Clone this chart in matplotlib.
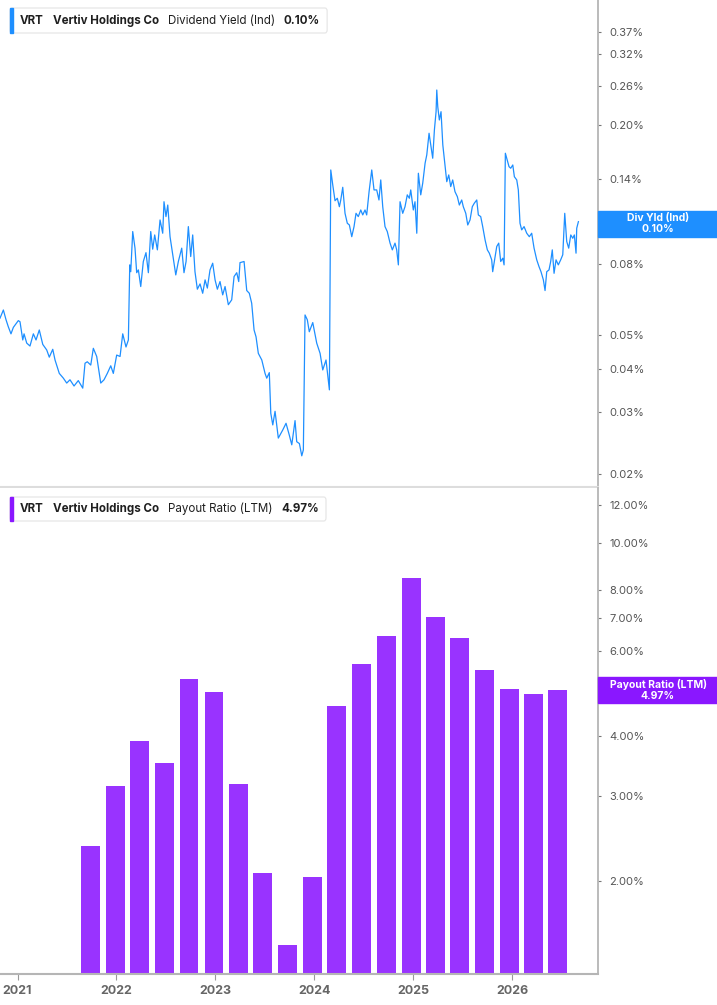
import matplotlib.pyplot as plt
from matplotlib.patches import Rectangle, FancyBboxPatch
from matplotlib.ticker import NullLocator

plt.rcParams['font.family'] = ['Inter', 'DejaVu Sans']

# Dividend yield (ind), in % (x in decimal years)
yld_t = [
    2020.823, 2020.857, 2020.884, 2020.907, 2020.934, 2020.958, 2021.008, 2021.025, 2021.053, 2021.066,
    2021.093, 2021.126, 2021.160, 2021.187, 2021.220, 2021.255, 2021.295, 2021.321, 2021.356, 2021.379,
    2021.422, 2021.463, 2021.497, 2021.530, 2021.571, 2021.614, 2021.659, 2021.682, 2021.705, 2021.740,
    2021.766, 2021.800, 2021.841, 2021.874, 2021.907, 2021.942, 2021.968, 2022.002, 2022.036, 2022.063,
    2022.096, 2022.120, 2022.134, 2022.144, 2022.164, 2022.187, 2022.204, 2022.221, 2022.245, 2022.271,
    2022.298, 2022.322, 2022.346, 2022.366, 2022.386, 2022.413, 2022.440, 2022.467, 2022.480, 2022.500,
    2022.518, 2022.541, 2022.568, 2022.599, 2022.625, 2022.659, 2022.682, 2022.703, 2022.726, 2022.750,
    2022.770, 2022.793, 2022.817, 2022.844, 2022.871, 2022.895, 2022.918, 2022.945, 2022.972, 2022.996,
    2023.019, 2023.046, 2023.073, 2023.097, 2023.130, 2023.164, 2023.188, 2023.215, 2023.235, 2023.248,
    2023.289, 2023.316, 2023.342, 2023.366, 2023.390, 2023.410, 2023.433, 2023.468, 2023.501, 2023.518,
    2023.544, 2023.559, 2023.579, 2023.602, 2023.635, 2023.680, 2023.713, 2023.746, 2023.771, 2023.804,
    2023.821, 2023.848, 2023.872, 2023.888, 2023.905, 2023.928, 2023.948, 2023.983, 2024.023, 2024.057,
    2024.084, 2024.117, 2024.151, 2024.165, 2024.185, 2024.208, 2024.231, 2024.252, 2024.266, 2024.286,
    2024.309, 2024.332, 2024.353, 2024.377, 2024.400, 2024.420, 2024.443, 2024.468, 2024.488, 2024.511,
    2024.528, 2024.552, 2024.579, 2024.602, 2024.629, 2024.652, 2024.670, 2024.690, 2024.713, 2024.736,
    2024.764, 2024.787, 2024.814, 2024.831, 2024.848, 2024.865, 2024.892, 2024.915, 2024.938, 2024.959,
    2024.973, 2024.999, 2025.016, 2025.034, 2025.050, 2025.074, 2025.094, 2025.118, 2025.135, 2025.158,
    2025.175, 2025.195, 2025.212, 2025.229, 2025.236, 2025.246, 2025.262, 2025.279, 2025.297, 2025.313,
    2025.337, 2025.357, 2025.377, 2025.397, 2025.420, 2025.444, 2025.464, 2025.488, 2025.504, 2025.529,
    2025.549, 2025.572, 2025.595, 2025.615, 2025.640, 2025.656, 2025.680, 2025.700, 2025.724, 2025.747,
    2025.767, 2025.791, 2025.801, 2025.825, 2025.842, 2025.862, 2025.882, 2025.903, 2025.916, 2025.929,
    2025.943, 2025.966, 2025.983, 2026.004, 2026.020, 2026.044, 2026.060, 2026.077, 2026.094, 2026.118,
    2026.145, 2026.171, 2026.195, 2026.219, 2026.246, 2026.269, 2026.289, 2026.313, 2026.330, 2026.347,
    2026.370, 2026.387, 2026.403, 2026.421, 2026.441, 2026.464, 2026.488, 2026.509, 2026.529, 2026.549,
    2026.569, 2026.590, 2026.610, 2026.626, 2026.643, 2026.650, 2026.667,
]
yld_pct = [
    0.0559, 0.0590, 0.0553, 0.0528, 0.0504, 0.0526, 0.0550, 0.0546, 0.0484, 0.0504,
    0.0474, 0.0465, 0.0504, 0.0484, 0.0517, 0.0470, 0.0453, 0.0432, 0.0455, 0.0424,
    0.0388, 0.0376, 0.0364, 0.0372, 0.0357, 0.0370, 0.0352, 0.0415, 0.0419, 0.0410,
    0.0458, 0.0434, 0.0364, 0.0372, 0.0388, 0.0408, 0.0388, 0.0438, 0.0434, 0.0504,
    0.0462, 0.0484, 0.0795, 0.0760, 0.0991, 0.0888, 0.0755, 0.0769, 0.0689, 0.0813,
    0.0862, 0.0755, 0.0991, 0.0882, 0.0969, 0.0878, 0.1070, 0.0980, 0.1207, 0.1094,
    0.1181, 0.0958, 0.0850, 0.0744, 0.0813, 0.0888, 0.0755, 0.0813, 0.1024, 0.0840,
    0.0969, 0.0760, 0.0677, 0.0701, 0.0659, 0.0720, 0.0682, 0.0769, 0.0804, 0.0720,
    0.0677, 0.0712, 0.0652, 0.0689, 0.0611, 0.0631, 0.0736, 0.0755, 0.0712, 0.0807,
    0.0813, 0.0671, 0.0659, 0.0617, 0.0517, 0.0494, 0.0443, 0.0424, 0.0388, 0.0376,
    0.0390, 0.0298, 0.0276, 0.0302, 0.0253, 0.0267, 0.0279, 0.0258, 0.0242, 0.0284,
    0.0247, 0.0244, 0.0225, 0.0234, 0.0571, 0.0553, 0.0511, 0.0543, 0.0474, 0.0443,
    0.0397, 0.0424, 0.0348, 0.1489, 0.1349, 0.1215, 0.1235, 0.1168, 0.1221, 0.1328,
    0.1118, 0.1047, 0.1035, 0.0958, 0.1024, 0.1118, 0.1094, 0.1143, 0.1106, 0.1143,
    0.1106, 0.1290, 0.1489, 0.1305, 0.1305, 0.1221, 0.1394, 0.1168, 0.1024, 0.0991,
    0.0918, 0.0878, 0.0918, 0.0878, 0.0795, 0.1207, 0.1118, 0.1168, 0.1263, 0.1235,
    0.1305, 0.1143, 0.1207, 0.0980, 0.1457, 0.1263, 0.1364, 0.1557, 0.1645, 0.1898,
    0.1757, 0.1609, 0.1940, 0.2189, 0.2526, 0.2261, 0.2072, 0.2189, 0.1757, 0.1591,
    0.1378, 0.1441, 0.1334, 0.1394, 0.1290, 0.1248, 0.1181, 0.1221, 0.1168, 0.1118,
    0.1035, 0.1070, 0.1168, 0.1195, 0.1221, 0.1106, 0.1094, 0.1024, 0.0938, 0.0878,
    0.0859, 0.0822, 0.0760, 0.0840, 0.0898, 0.0918, 0.0813, 0.0831, 0.0795, 0.1663,
    0.1609, 0.1522, 0.1506, 0.1539, 0.1424, 0.1394, 0.1305, 0.1047, 0.1002, 0.1024,
    0.0980, 0.0958, 0.0980, 0.0888, 0.0822, 0.0786, 0.0760, 0.0720, 0.0671, 0.0760,
    0.0769, 0.0813, 0.0878, 0.0752, 0.0822, 0.0795, 0.0822, 0.0850, 0.1118, 0.0928,
    0.0888, 0.0969, 0.0948, 0.0969, 0.0859, 0.1013, 0.1058,
]

# Payout ratio (LTM), in %, one bar per quarter
pay_t = [2021.740, 2021.992, 2022.236, 2022.483, 2022.733, 2022.986, 2023.231, 2023.478,
         2023.730, 2023.983, 2024.225, 2024.478, 2024.730, 2024.983, 2025.223, 2025.465,
         2025.718, 2025.970, 2026.213, 2026.456]
pay_pct = [2.37, 3.15, 3.91, 3.52, 5.25, 4.93, 3.18, 2.08, 1.48, 2.04,
           4.62, 5.62, 6.44, 8.49, 7.04, 6.36, 5.46, 4.99, 4.87, 4.97]

year_ticks = [2021, 2022, 2023, 2024, 2025, 2026]
yld_ticks = [0.02, 0.03, 0.04, 0.05, 0.08, 0.11, 0.14, 0.20, 0.26, 0.32, 0.37]
pay_ticks = [2, 3, 4, 5, 6, 7, 8, 10, 12]
# these tick labels sit under the current-value boxes
yld_hidden = [0.11]
pay_hidden = [5]

BLUE = '#1e8fff'
PURPLE = '#9933ff'
PURPLE_TAG = '#8a17ff'
W, H = 717, 1005

fig = plt.figure(figsize=(W / 100, H / 100), dpi=100)
fig.patch.set_facecolor('white')


def px_axes(x0, y0, x1, y1):
    return fig.add_axes([x0 / W, 1 - y1 / H, (x1 - x0) / W, (y1 - y0) / H])


ax1 = px_axes(0, 0, 598, 487)
ax2 = px_axes(0, 488, 598, 974)

for ax in (ax1, ax2):
    ax.set_yscale('log')
    ax.set_xlim(2020.823, 2026.865)
    ax.spines['left'].set_visible(False)
    ax.spines['top'].set_visible(False)
    ax.spines['right'].set_color('#b5b5b5')
    ax.spines['right'].set_linewidth(1.3)
    ax.yaxis.tick_right()
    ax.tick_params(axis='y', which='major', length=2, width=0.8, color='#777777',
                   pad=6, labelsize=8, labelcolor='#555555')

# top panel: dividend yield line
ax1.plot(yld_t, yld_pct, color=BLUE, lw=0.9)
ax1.set_ylim(0.01831, 0.458)
ax1.set_yticks(yld_ticks)
ax1.set_yticklabels(['' if v in yld_hidden else f'{v:.2f}%' for v in yld_ticks])
ax1.yaxis.set_minor_locator(NullLocator())
ax1.set_xticks([])
ax1.spines['bottom'].set_color('#dddddd')
ax1.spines['bottom'].set_linewidth(1.5)

# bottom panel: payout ratio bars
ax2.bar(pay_t, pay_pct, width=0.189, color=PURPLE)
ax2.set_ylim(1.287, 13.01)
ax2.set_yticks(pay_ticks)
ax2.set_yticklabels(['' if v in pay_hidden else f'{v:.2f}%' for v in pay_ticks])
ax2.yaxis.set_minor_locator(NullLocator())
ax2.set_xticks(year_ticks)
ax2.set_xticklabels([str(y) for y in year_ticks], fontweight='bold')
ax2.tick_params(axis='x', length=4, width=0.8, color='#999999', pad=4,
                labelsize=9, labelcolor='#666666')
ax2.spines['bottom'].set_color('#b5b5b5')
ax2.spines['bottom'].set_linewidth(1.5)

renderer = fig.canvas.get_renderer()


def legend_box(y0, y1, color, parts):
    yc = 1 - (y0 + y1) / 2 / H
    x = 20
    for s, bold in parts:
        t = fig.text(x / W, yc, s, ha='left', va='center', fontsize=8.3,
                     fontweight='bold' if bold else 'normal', color='#1f1f1f', zorder=3)
        x += t.get_window_extent(renderer).width + 9
    x1 = x - 9 + 7
    fig.add_artist(FancyBboxPatch((10 / W, 1 - y1 / H), (x1 - 10) / W, (y1 - y0) / H,
                                  boxstyle='round,pad=0,rounding_size=0.003',
                                  transform=fig.transFigure, fc='white', ec='#e4e4e4',
                                  lw=0.8, zorder=2))
    fig.add_artist(Rectangle((10 / W, 1 - y1 / H), 3 / W, (y1 - y0) / H,
                             transform=fig.transFigure, color=color, zorder=2.5))


legend_box(8, 33, BLUE, [('VRT', True), ('Vertiv Holdings Co', True),
                        ('Dividend Yield (Ind)', False), ('0.10%', True)])
legend_box(497, 521, PURPLE_TAG, [('VRT', True), ('Vertiv Holdings Co', True),
                                 ('Payout Ratio (LTM)', False), ('4.97%', True)])


def value_box(ax, v, color, title, value, shift=0):
    _, yd = ax.transData.transform((ax.get_xlim()[0], v))
    yd -= shift
    fig.add_artist(Rectangle((598 / W, (yd - 13) / H), 119 / W, 26 / H,
                             transform=fig.transFigure, color=color))
    fig.text(658 / W, (yd + 6) / H, title, ha='center', va='center', fontsize=7.5,
             fontweight='bold', color='white')
    fig.text(658 / W, (yd - 5.5) / H, value, ha='center', va='center', fontsize=7.5,
             fontweight='bold', color='white')


value_box(ax1, yld_pct[-1], BLUE, 'Div Yld (Ind)', '0.10%', shift=2)
value_box(ax2, pay_pct[-1], PURPLE_TAG, 'Payout Ratio (LTM)', '4.97%')

fig.savefig('out.png', dpi=100)
